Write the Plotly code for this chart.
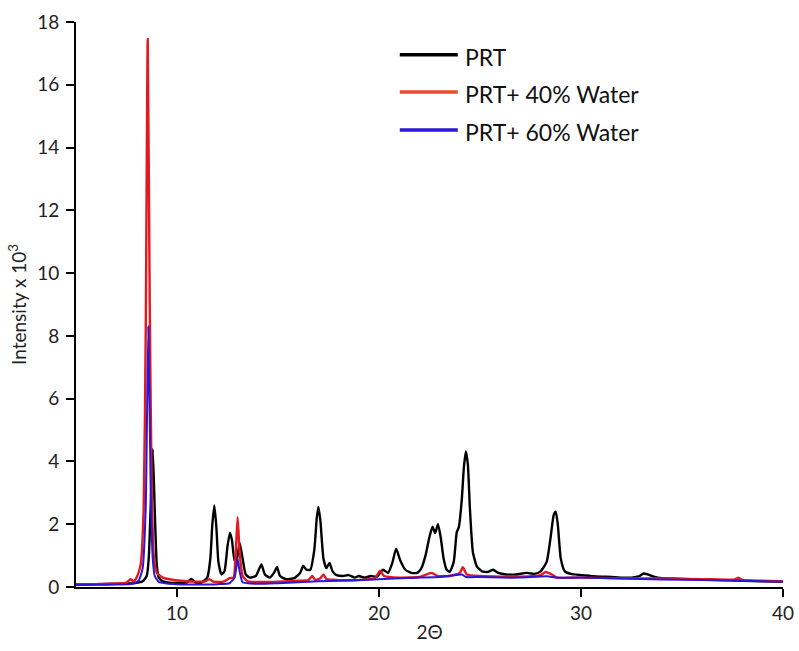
import plotly.graph_objects as go

# 2-theta positions and intensities (x 10^3) for each sample
prt_x = [5.0, 6.0, 7.0, 7.6, 8.0, 8.3, 8.5, 8.6, 8.7, 8.8, 8.9, 9.0, 9.1, 9.3, 9.6,
         10.0, 10.5, 10.7, 10.9, 11.2, 11.5, 11.65, 11.75, 11.85, 11.95, 12.05, 12.2,
         12.35, 12.5, 12.62, 12.72, 12.85, 12.95, 13.1, 13.25, 13.4, 13.6, 13.9, 14.05,
         14.18, 14.35, 14.6, 14.8, 14.95, 15.1, 15.4, 15.8, 16.1, 16.25, 16.4, 16.6,
         16.8, 16.92, 17.0, 17.1, 17.25, 17.4, 17.55, 17.7, 17.9, 18.2, 18.5, 18.8,
         19.0, 19.3, 19.6, 19.9, 20.2, 20.45, 20.65, 20.85, 21.05, 21.3, 21.6, 21.9,
         22.1, 22.3, 22.5, 22.65, 22.78, 22.92, 23.05, 23.2, 23.35, 23.5, 23.7, 23.85,
         23.95, 24.1, 24.2, 24.3, 24.4, 24.5, 24.65, 24.85, 25.1, 25.4, 25.65, 25.9,
         26.3, 26.8, 27.3, 27.7, 28.0, 28.3, 28.5, 28.65, 28.75, 28.85, 29.0, 29.2,
         29.5, 30.0, 30.5, 31.0, 31.5, 32.0, 32.5, 32.9, 33.1, 33.3, 33.6, 34.0, 35.0,
         36.0, 37.0, 38.0, 39.0, 40.0]
prt_y = [0.08, 0.09, 0.10, 0.11, 0.13, 0.18, 0.35, 0.9, 2.6, 4.4, 2.4, 0.7, 0.3, 0.18, 0.14,
         0.13, 0.15, 0.26, 0.15, 0.14, 0.3, 0.9, 2.0, 2.6, 1.9, 0.8, 0.4,
         0.5, 1.3, 1.72, 1.5, 0.85, 0.85, 1.4, 0.9, 0.4, 0.3, 0.35, 0.55,
         0.72, 0.4, 0.3, 0.45, 0.63, 0.35, 0.25, 0.28, 0.45, 0.68, 0.55, 0.55,
         1.2, 2.2, 2.55, 2.1, 0.9, 0.6, 0.77, 0.5, 0.38, 0.35, 0.38, 0.3,
         0.35, 0.3, 0.35, 0.33, 0.55, 0.45, 0.75, 1.22, 0.85, 0.55, 0.45, 0.45,
         0.6, 1.0, 1.6, 1.92, 1.72, 2.0, 1.6, 0.9, 0.55, 0.48, 0.8, 1.75,
         1.9, 2.8, 3.8, 4.32, 3.9, 2.5, 1.1, 0.65, 0.5, 0.48, 0.55, 0.45,
         0.4, 0.4, 0.45, 0.42, 0.5, 0.8, 1.6, 2.3, 2.4, 2.0, 0.9, 0.5,
         0.42, 0.38, 0.35, 0.33, 0.32, 0.3, 0.3, 0.35, 0.43, 0.4, 0.33, 0.28, 0.26,
         0.24, 0.22, 0.2, 0.18, 0.17]

w40_x = [5.0, 6.0, 7.0, 7.5, 7.7, 7.85, 8.0, 8.2, 8.35, 8.45, 8.55, 8.65, 8.75, 8.85,
         9.0, 9.3, 9.7, 10.2, 11.0, 11.4, 11.6, 11.8, 12.3, 12.6, 12.8, 12.9, 13.0,
         13.1, 13.25, 13.5, 14.0, 15.0, 16.0, 16.5, 16.7, 16.85, 17.1, 17.25, 17.4,
         18.0, 19.0, 19.8, 20.05, 20.25, 21.0, 22.0, 22.6, 22.9, 23.5, 24.0, 24.15,
         24.35, 25.0, 26.0, 27.0, 28.0, 28.25, 28.55, 28.8, 30.0, 32.0, 34.0, 36.0,
         37.6, 37.8, 38.0, 39.0, 40.0]
w40_y = [0.08, 0.09, 0.11, 0.14, 0.25, 0.18, 0.3, 0.7, 2.5, 8.0, 17.45, 9.0, 3.0, 1.0,
         0.45, 0.3, 0.24, 0.2, 0.17, 0.18, 0.25, 0.17, 0.17, 0.28, 0.3, 1.0, 2.22,
         1.1, 0.35, 0.18, 0.16, 0.17, 0.2, 0.22, 0.35, 0.22, 0.28, 0.4, 0.25,
         0.22, 0.22, 0.28, 0.52, 0.35, 0.3, 0.32, 0.45, 0.35, 0.35, 0.45, 0.63,
         0.4, 0.35, 0.33, 0.33, 0.38, 0.48, 0.4, 0.3, 0.3, 0.28, 0.27, 0.25,
         0.24, 0.3, 0.22, 0.2, 0.18]

w60_x = [5.0, 6.0, 7.0, 7.8, 8.1, 8.3, 8.45, 8.58, 8.7, 8.8, 8.9, 9.1, 9.5, 10.0,
         11.0, 12.0, 12.6, 12.85, 13.0, 13.1, 13.25, 14.0, 15.0, 16.0, 17.0, 18.0,
         19.0, 20.0, 21.0, 22.0, 23.0, 24.1, 24.3, 25.0, 26.0, 27.0, 28.3, 28.8,
         30.0, 32.0, 34.0, 36.0, 38.0, 40.0]
w60_y = [0.06, 0.07, 0.08, 0.1, 0.2, 0.6, 2.5, 8.3, 3.0, 0.9, 0.35, 0.16, 0.11, 0.09,
         0.08, 0.09, 0.12, 0.3, 0.9, 0.5, 0.15, 0.1, 0.12, 0.15, 0.18, 0.2,
         0.22, 0.25, 0.28, 0.3, 0.32, 0.4, 0.32, 0.32, 0.3, 0.3, 0.34, 0.3,
         0.3, 0.27, 0.24, 0.22, 0.2, 0.17]

series_names = ["PRT", "PRT+ 40% Water", "PRT+ 60% Water"]
line_colors = ["#000000", "#e3191f", "#2a16d6"]
legend_colors = ["#000000", "#ec4a2a", "#2a16d6"]

FONT = "Lato, 'Liberation Sans', sans-serif"

fig = go.Figure()
for xs, ys, name, col, lw in [(prt_x, prt_y, series_names[0], line_colors[0], 2.4),
                              (w40_x, w40_y, series_names[1], line_colors[1], 2.4),
                              (w60_x, w60_y, series_names[2], line_colors[2], 2.0)]:
    fig.add_trace(go.Scatter(x=xs, y=ys, mode="lines", name=name,
                             line=dict(color=col, width=lw, shape="spline", smoothing=0.5),
                             showlegend=False))

# legend drawn as line samples with labels in the upper middle of the plot
legend_y = [0.942, 0.876, 0.809]
for name, col, ly in zip(series_names, legend_colors, legend_y):
    fig.add_shape(type="line", xref="paper", yref="paper",
                  x0=0.458, x1=0.54, y0=ly, y1=ly,
                  line=dict(color=col, width=3.5))
    fig.add_annotation(xref="paper", yref="paper", x=0.548, y=ly - 0.004,
                       xanchor="left", yanchor="middle", showarrow=False,
                       text=name, font=dict(family=FONT, size=23, color="#111"))

axis_common = dict(showline=True, linecolor="#000", linewidth=2,
                   ticks="outside", ticklen=8, tickwidth=2, tickcolor="#000",
                   showgrid=False, zeroline=False, mirror=False, automargin=False,
                   tickfont=dict(family=FONT, size=19, color="#222"))

fig.update_xaxes(range=[5, 40], tickvals=[10, 20, 30, 40], ticklabelstandoff=0,
                 title=dict(text="2Θ", font=dict(family=FONT, size=19, color="#222"),
                            standoff=3),
                 **axis_common)
fig.update_yaxes(range=[0, 18], tickvals=list(range(0, 19, 2)), ticklabelstandoff=3,
                 title=dict(text="Intensity x 10<sup>3</sup>",
                            font=dict(family=FONT, size=19, color="#222"), standoff=6),
                 **axis_common)

fig.update_layout(width=799, height=651,
                  margin=dict(l=76, r=16, t=22, b=64),
                  plot_bgcolor="white", paper_bgcolor="white")

fig.write_html("out.html")
